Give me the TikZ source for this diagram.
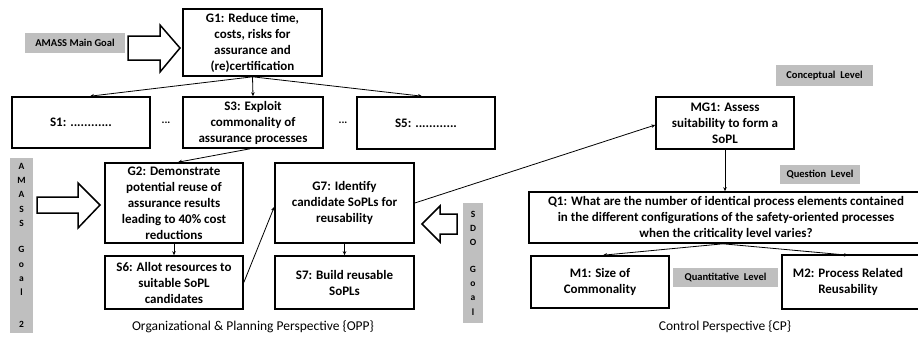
\documentclass[tikz,border=0pt]{standalone}
\usepackage{fontspec}
\setmainfont{Carlito}
\usetikzlibrary{arrows.meta,calc}
\definecolor{lblgray}{RGB}{191,191,191}
\begin{document}
\begin{tikzpicture}[x=1pt,y=-1pt,
  box/.style={draw=black,line width=1.6pt,fill=white,align=center,inner sep=1pt,font=\bfseries\fontsize{13}{16}\selectfont},
  lbl/.style={fill=lblgray,inner sep=0pt,font=\bfseries\fontsize{10.5}{12}\selectfont},
  vbar/.style={fill=lblgray,inner sep=0pt,align=center,font=\bfseries\fontsize{9.5}{14.3}\selectfont},
  conn/.style={line width=0.8pt,-{Stealth[length=4pt,width=3.5pt]}},
  barrow/.style={draw=black,line width=1.5pt,fill=white,line join=miter},
  note/.style={font=\fontsize{13.5}{16}\selectfont},
  dotsn/.style={font=\bfseries\fontsize{11}{13}\selectfont}]
\fill[white] (0,0) rectangle (918,338);
\useasboundingbox (0,0) rectangle (918,338);

% boxes
\node[box,minimum width=139,minimum height=67] (g1) at (252.5,42.5) {G1: Reduce time,\\costs, risks for\\assurance and\\(re)certification};
\node[box,minimum width=138,minimum height=51] (s1) at (81,122.5) {S1: ............};
\node[box,minimum width=140,minimum height=51] (s3) at (253,122.5) {S3: Exploit\\commonality of\\assurance processes};
\node[box,minimum width=138,minimum height=52] (s5) at (426,123) {S5: ............};
\node[dotsn] (e1) at (166,123) {...};
\node[dotsn] (e2) at (343,123) {...};

\node[box,minimum width=138,minimum height=80] (g2) at (174,203) {G2: Demonstrate\\potential reuse of\\assurance results\\leading to 40\% cost\\reductions};
\node[box,minimum width=138,minimum height=53] (s6) at (174,282.5) {S6: Allot resources to\\suitable SoPL\\candidates};
\node[box,minimum width=139,minimum height=80] (g7) at (344.5,203) {G7: Identify\\candidate SoPLs for\\reusability};
\node[box,minimum width=139,minimum height=53] (s7) at (344.5,282.5) {S7: Build reusable\\SoPLs};

\node[box,minimum width=138,minimum height=52] (mg1) at (725,123) {MG1: Assess\\suitability to form a\\SoPL};
\node[box,minimum width=394,minimum height=51] (q1) at (726,217.5) {Q1: What are the number of identical process elements contained\\in the different configurations of the safety-oriented processes\\when the criticality level varies?};
\node[box,minimum width=138,minimum height=52] (m1) at (600,282) {M1: Size of\\Commonality};
\node[box,draw=none,fill=none,minimum width=130,minimum height=52] (m2) at (848,282) {M2: Process Related\\Reusability};
\draw[line width=1.6pt] ([xshift=20pt]m2.north east) -| (m2.south west) -- ([xshift=20pt]m2.south east);

% gray labels
\node[lbl,minimum width=100,minimum height=20] (mainlbl) at (75,43) {AMASS Main Goal};
\node[vbar,minimum width=23,minimum height=175] (bar1) at (21.5,245.5) {A\\M\\A\\S\\S\\[12pt]G\\o\\a\\l\\[18pt]2};
\node[vbar,minimum width=20,minimum height=120] (bar2) at (473,263) {S\\D\\O\\[12pt]G\\o\\a\\l};
\node[lbl,minimum width=97,minimum height=21] (concl) at (824.5,75.5) {Conceptual\ \ Level};
\node[lbl,minimum width=80,minimum height=19] (questl) at (820,174.5) {Question\ \ Level};
\node[lbl,minimum width=105,minimum height=19] (quantl) at (725.5,277.5) {Quantitative\ \ Level};

% block arrows
\draw[barrow] (128,36) -- (160,36) -- (160,25) -- (180,48) -- (160,72) -- (160,60) -- (128,60) -- cycle;
\draw[barrow] (37,197) -- (78,197) -- (78,183) -- (100,205) -- (78,228) -- (78,213) -- (37,213) -- cycle;
\draw[barrow] (457,214) -- (440,214) -- (440,206) -- (422,224) -- (440,242) -- (440,234) -- (457,234) -- cycle;

% connectors
\draw[conn] (g1.south) -- ([xshift=9pt]s1.north);
\draw[conn] (g1.south) -- (s3.north);
\draw[conn] (g1.south) -- ([xshift=-4pt]s5.north);
\draw[conn] ([xshift=-3pt]s3.south) -- ([xshift=4pt]g2.north);
\draw[conn] (g2.south) -- (s6.north);
\draw[conn] (g7.south) -- (s7.north);
\draw[conn] (s6.east) -- ([yshift=-4pt]g7.west);
\draw[conn] (g7.east) -- ([yshift=-2pt]mg1.west);
\draw[conn] (mg1.south) -- (mg1.south |- q1.north);
\draw[conn] ([xshift=-3pt]q1.south) -- ([xshift=3pt]m1.north);
\draw[conn] ([xshift=-3pt]q1.south) -- (m2.north);

% perspective captions
\node[note] (opp) at (253,327) {Organizational \& Planning Perspective \{OPP\}};
\node[note] (cp) at (725,327) {Control Perspective \{CP\}};
\end{tikzpicture}
\end{document}
